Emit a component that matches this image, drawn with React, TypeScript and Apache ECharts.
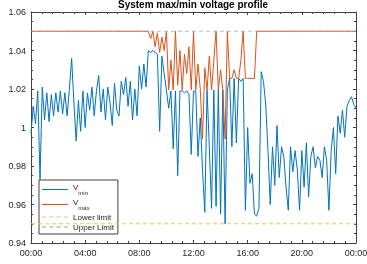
import React, { useEffect, useRef } from 'react';
import * as echarts from 'echarts';

const titleText = 'System max/min voltage profile';
const yAxisName = 'p.u.';
const stepMinutes = 10;
const dayMinutes = 1440;
const lowerLimit = 0.95;
const upperLimit = 1.05;
const seriesNames = ['Vmin', 'Vmax', 'Lower limit', 'Upper Limit'];

// Minimum voltage, 10-minute samples from 00:00 to 24:00
const vmin = [
  0.997, 1.011, 1.002, 1.019, 0.973, 1.021, 1.004, 1.018, 1.003, 1.017, 1.006, 1.018,
  1.008, 1.019, 1.007, 1.018, 1.006, 1.020, 1.036, 1.013, 0.993, 1.014, 0.998, 1.019,
  1.000, 1.018, 1.009, 1.021, 1.006, 1.019, 1.027, 1.008, 1.020, 1.004, 1.021, 1.013,
  1.001, 1.023, 1.009, 1.006, 1.024, 1.017, 1.026, 1.011, 1.024, 1.004, 1.020, 1.006,
  1.032, 1.020, 1.033, 1.021, 1.040, 1.039, 1.040, 1.039, 1.038, 0.998, 1.037, 1.028,
  1.0195, 1.010, 1.019, 0.989, 1.019, 0.975, 1.019, 1.019, 1.018, 1.019, 1.017, 0.986,
  1.019, 1.019, 0.985, 1.005, 0.978, 0.956, 1.0195, 0.990, 0.958, 1.0195, 0.959, 1.0195,
  0.955, 1.0195, 0.950, 1.0195, 1.0255, 0.990, 1.0255, 0.992, 1.0255, 1.024, 1.0255, 0.957,
  1.000, 0.971, 0.976, 0.955, 0.954, 0.958, 1.029, 1.024, 1.012, 0.988, 0.960, 0.990,
  0.970, 1.001, 0.974, 0.990, 0.985, 0.969, 0.957, 0.990, 0.977, 0.988, 0.978, 0.957,
  0.988, 0.969, 0.992, 0.964, 0.985, 0.990, 0.979, 0.985, 0.983, 0.974, 0.990, 0.983,
  0.957, 0.988, 1.000, 0.976, 1.006, 0.997, 1.009, 0.995, 1.011, 1.014, 1.016, 1.012,
  1.010,
];

// Maximum voltage, 10-minute samples from 00:00 to 24:00
const vmax = [
  1.05, 1.05, 1.05, 1.05, 1.05, 1.05, 1.05, 1.05, 1.05, 1.05, 1.05, 1.05,
  1.05, 1.05, 1.05, 1.05, 1.05, 1.05, 1.05, 1.05, 1.05, 1.05, 1.05, 1.05,
  1.05, 1.05, 1.05, 1.05, 1.05, 1.05, 1.05, 1.05, 1.05, 1.05, 1.05, 1.05,
  1.05, 1.05, 1.05, 1.05, 1.05, 1.05, 1.05, 1.05, 1.05, 1.05, 1.05, 1.05,
  1.05, 1.05, 1.05, 1.05, 1.05, 1.046, 1.05, 1.042, 1.049, 1.039, 1.047, 1.04,
  1.05, 1.0195, 1.035, 1.0195, 1.05, 1.022, 1.04, 1.0195, 1.038, 1.028, 1.042, 1.0195,
  1.05, 1.0195, 1.033, 1.02, 0.994, 1.031, 1.0195, 1.037, 1.0195, 1.035, 1.05, 1.0195,
  1.03, 1.0195, 0.994, 1.05, 1.0255, 1.0255, 1.03, 1.0255, 1.0255, 1.035, 1.05, 1.0255,
  1.0255, 1.0255, 1.0255, 1.0255, 1.05, 1.05, 1.05, 1.05, 1.05, 1.05, 1.05, 1.05,
  1.05, 1.05, 1.05, 1.05, 1.05, 1.05, 1.05, 1.05, 1.05, 1.05, 1.05, 1.05,
  1.05, 1.05, 1.05, 1.05, 1.05, 1.05, 1.05, 1.05, 1.05, 1.05, 1.05, 1.05,
  1.05, 1.05, 1.05, 1.05, 1.05, 1.05, 1.05, 1.05, 1.05, 1.05, 1.05, 1.05,
  1.05,
];

const axisColor = '#404040';
const textColor = '#262626';
const font = '"Liberation Sans", Arial, Helvetica, sans-serif';
const colors = ['#0072BD', '#D95319', '#E8C56A', '#A0A0A0'];
const dash = [4, 3];
const solidIcon = 'path://M0,0H26V1H0Z';
const dashIcon = 'path://M0,0H4V1H0Z M7,0H11V1H7Z M14,0H18V1H14Z M21,0H25V1H21Z';

function pad(n: number) {
  return n < 10 ? '0' + n : String(n);
}
function fmtTime(v: number) {
  const h = Math.floor(v / 60) % 24;
  const m = Math.round(v % 60);
  return pad(h) + ':' + pad(m);
}

export default function App() {
  const ref = useRef<HTMLDivElement>(null);
  useEffect(() => {
    if (!ref.current) return;
    const chart = echarts.init(ref.current, null, { renderer: 'svg' });
    const toPairs = (arr: number[]) => arr.map((v, i) => [i * stepMinutes, v]);
    const xBase = {
      type: 'value',
      min: 0,
      max: dayMinutes,
      interval: 240,
      axisLine: { show: true, onZero: false, lineStyle: { color: axisColor, width: 1 } },
      axisTick: { show: true, inside: true, length: 3, lineStyle: { color: axisColor } },
      minorTick: { show: true, splitNumber: 5, length: 2, lineStyle: { color: axisColor } },
      splitLine: { show: false },
      minorSplitLine: { show: false },
    };
    const yBase = {
      type: 'value',
      min: 0.94,
      max: 1.06,
      interval: 0.02,
      axisLine: { show: true, onZero: false, lineStyle: { color: axisColor, width: 1 } },
      axisTick: { show: true, inside: true, length: 3, lineStyle: { color: axisColor } },
      minorTick: { show: true, splitNumber: 4, length: 2, lineStyle: { color: axisColor } },
      splitLine: { show: false },
      minorSplitLine: { show: false },
    };
    const legendData = seriesNames.map((name, i) => ({
      name,
      icon: i >= 2 ? dashIcon : solidIcon,
      itemStyle: { color: colors[i], opacity: 1, borderWidth: 0 },
    }));
    chart.setOption({
      animation: false,
      textStyle: { fontFamily: font },
      title: {
        text: titleText,
        left: 193,
        top: -1,
        padding: 0,
        textAlign: 'center',
        textStyle: { fontSize: 10, fontWeight: 'bold', color: '#000', fontFamily: font },
      },
      grid: { left: 31, right: 11, top: 12, bottom: 21, containLabel: false, outerBoundsMode: 'none' },
      xAxis: [
        {
          ...xBase,
          position: 'bottom',
          axisLabel: { show: true, fontSize: 9, color: textColor, margin: 5, formatter: (v: number) => fmtTime(v) },
        },
        { ...xBase, position: 'top', axisLabel: { show: false } },
      ],
      yAxis: [
        {
          ...yBase,
          position: 'left',
          name: yAxisName,
          nameLocation: 'middle',
          nameGap: 19,
          nameTextStyle: { fontSize: 9, color: textColor },
          axisLabel: {
            show: true,
            fontSize: 9,
            color: textColor,
            margin: 5,
            formatter: (v: number) => String(parseFloat(v.toFixed(2))),
          },
        },
        { ...yBase, position: 'right', axisLabel: { show: false } },
      ],
      legend: {
        orient: 'vertical',
        left: 39,
        top: 180,
        padding: [3, 4, 3, 3],
        itemGap: 2,
        itemWidth: 26,
        itemHeight: 8,
        symbolKeepAspect: true,
        backgroundColor: '#fff',
        borderColor: axisColor,
        borderWidth: 1,
        borderRadius: 0,
        data: legendData,
        textStyle: {
          fontSize: 8,
          color: textColor,
          rich: {
            v: { fontSize: 8, color: textColor, verticalAlign: 'top', lineHeight: 10 },
            s: { fontSize: 6, color: textColor, verticalAlign: 'bottom', padding: [7, 0, 0, 0] },
          },
        },
        formatter: (name: string) => {
          if (name === 'Vmin') return '{v|V}{s|min}';
          if (name === 'Vmax') return '{v|V}{s|max}';
          return name;
        },
      },
      series: [
        {
          name: seriesNames[0],
          type: 'line',
          data: toPairs(vmin),
          showSymbol: false,
          symbol: 'none',
          lineStyle: { color: colors[0], width: 1 },
          itemStyle: { color: colors[0] },
          z: 2,
        },
        {
          name: seriesNames[1],
          type: 'line',
          data: toPairs(vmax),
          showSymbol: false,
          symbol: 'none',
          lineStyle: { color: colors[1], width: 1 },
          itemStyle: { color: colors[1] },
          z: 3,
        },
        {
          name: seriesNames[2],
          type: 'line',
          data: [
            [0, lowerLimit],
            [dayMinutes, lowerLimit],
          ],
          showSymbol: false,
          symbol: 'none',
          lineStyle: { color: colors[2], width: 1, type: dash },
          itemStyle: { color: colors[2] },
          z: 4,
        },
        {
          name: seriesNames[3],
          type: 'line',
          data: [
            [0, upperLimit],
            [dayMinutes, upperLimit],
          ],
          showSymbol: false,
          symbol: 'none',
          lineStyle: { color: colors[3], width: 1, type: dash, opacity: 0.7 },
          itemStyle: { color: colors[3] },
          z: 5,
        },
      ],
    });
    return () => chart.dispose();
  }, []);
  return <div ref={ref} style={{ position: 'fixed', left: 0, top: 0, width: 367, height: 264 }} />;
}
